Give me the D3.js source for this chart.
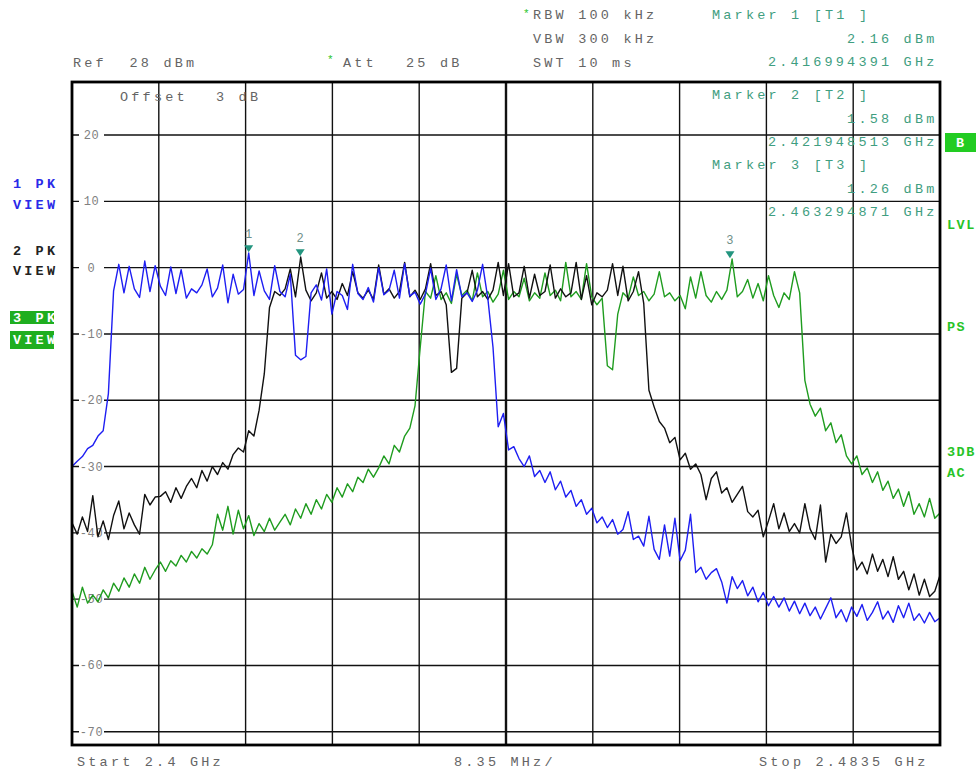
<!DOCTYPE html>
<html>
<head>
<meta charset="utf-8">
<script src="https://cdn.jsdelivr.net/npm/d3@7"></script>
<style>
  html, body { margin: 0; padding: 0; background: #fff; }
  svg { display: block; }
  text { font-family: "Liberation Mono", "DejaVu Sans Mono", monospace; }
</style>
</head>
<body>
<svg id="chart" width="976" height="772"></svg>
<script>
// ---------------- DATA ----------------
const sweepStartMHz = 2400;
const sweepStopMHz = 2483.5;
const sweepStepMHz = 0.5;          // one trace point every 0.5 MHz
const refLevel = 28, bottomLevel = -72;
const yTickValues = [20, 10, 0, -10, -20, -30, -40, -50, -60, -70];
const xDivisionsMHz = [0, 8.35, 16.7, 25.05, 33.4, 41.75, 50.1, 58.45, 66.8, 75.15, 83.5];

// Trace 1 (blue, PK VIEW)
const trace1 = [
  -30, -29.2, -28.5, -27.3, -26.8, -25.4, -24.6, -19,
  -3.5, 0.5, -3.8, 0.2, -3.2, -4.5, 1.0, -3.6,
  0.3, -2.8, -4.2, 0.1, -3.9, -0.3, -4.6, -3.2,
  -3.8, -2.6, -0.2, -4.4, -3.1, 0.4, -5.3, -1.0,
  -4.0, -3.3, 2.2, -4.2, -0.5, -3.5, -4.8, 0.3,
  -3.6, -4.4, -1.0, -13.2, -13.9, -13.4, -3.8, -2.6,
  -4.9, -0.2, -7.0, -3.6, -4.2, -6.3, 0.5, -3.9,
  -4.8, -3.0, -5.2, 0.0, -4.1, -3.4, -0.4, -4.6,
  0.6, -4.3, -3.7, -5.5, -4.0, -0.1, -4.8, -3.2,
  0.4, -5.0, -0.3, -4.4, -3.8, -5.1, -3.4, 0.5,
  -4.6, -12, -24, -22, -27.5, -27, -28.8, -30,
  -28.4, -31.5, -30.6, -32.4, -30.8, -33.5, -32.2, -34.6,
  -33.6, -36, -35, -37.2, -36.3, -38.5, -37.6, -39.2,
  -38, -40.2, -39.5, -36.8, -41, -40.5, -42, -37.5,
  -42.5, -44, -38.8, -43.5, -37.8, -44.2, -42.6, -37.2,
  -46, -45.2, -47, -46, -45.4, -47.4, -50.6, -46.6,
  -48.4, -47.2, -49.5, -48.2, -50.4, -49, -51, -49.6,
  -51.2, -49.8, -51.8, -50.3, -52.2, -50.6, -52.5, -51.2,
  -53, -51.4, -49.8, -52.8, -51.6, -53.4, -51.2, -52.6,
  -50.8, -53.2, -52, -50.4, -53, -51.8, -53.5, -51,
  -52.8, -50.6, -53.2, -52.2, -53.6, -52, -53.4, -52.8
];

// Trace 2 (black, PK VIEW)
const trace2 = [
  -38.5, -40.2, -37.6, -39.8, -34.4, -40.6, -38.2, -41,
  -37.4, -35.2, -39.4, -37, -38.8, -40.2, -34.2, -35.8,
  -34.6, -34.5, -33.8, -35.4, -33.2, -34.8, -33, -31.8,
  -33.2, -30.6, -32.2, -30, -31.2, -29.4, -30.4, -28.2,
  -27.2, -27.8, -24.6, -25.4, -21.5, -16, -6, -3.6,
  -4.2, -3.2, -0.2, -4.4, 1.6, -3.4, -5, -3.8,
  -0.8, -4.6, -3.6, -4.8, -2.4, -4.2, -0.6, -3.8,
  -4.6, -3.4, -4.8, 0.4, -4, -3.2, -4.6, -3.6,
  0.8, -4.4, -3.4, -4.8, -3.2, 0.6, -4.2, -3.6,
  -5.6, -15.8, -15.2, -4.6, -3.8, -0.4, -4.4, -3.6,
  -4.8, -3.4, 0.8, -4.2, 0.6, -4.4, -3.8, 0.2,
  -4.6, -1, -4.2, -3.6, 0.4, -4.6, -3.2, -4.4,
  -3.8, 0.8, -4.8, -1.2, -5.6, -3.8, -4.4, -3.4,
  0.6, -4.2, 0.2, -5, -3.6, -0.6, -5.4, -18.5,
  -21, -23.2, -24.2, -26.4, -25.6, -29, -28, -30.4,
  -29.6, -31.2, -35, -31.8, -30.8, -34, -33.2, -35.4,
  -34.2, -33, -36.8, -37.6, -36.6, -40.6, -38.2, -35.6,
  -39.4, -37, -39.8, -38.6, -40, -35.6, -39.4, -41,
  -35.8, -44.4, -40.2, -41.6, -40.6, -37, -42, -45.6,
  -44.4, -46.2, -43.2, -45.8, -44, -46.6, -43.6, -47,
  -45.8, -48.6, -46.2, -49.4, -47, -49.6, -48.8, -46.4
];

// Trace 3 (green, PK VIEW)
const trace3 = [
  -48.8, -51.2, -48.2, -50.6, -49.4, -50.4, -48.6, -49.8,
  -47.6, -48.8, -46.8, -48.2, -46.2, -47.6, -45.2, -47,
  -45.6, -44.4, -45.8, -44.2, -45, -43.4, -44.4, -42.8,
  -43.8, -42.4, -43.2, -41.8, -37.2, -39.6, -36, -40.2,
  -36.6, -39.4, -37.4, -40.4, -38.6, -39.8, -37.8, -39.6,
  -38.4, -37.2, -38.8, -36.4, -37.8, -35.6, -37.2, -35,
  -36.4, -34.2, -35.4, -33.2, -34.6, -32.6, -33.8, -31.6,
  -32.4, -30.4, -31.6, -30.2, -28.4, -29.6, -26.8, -27.8,
  -25.4, -24.2, -20.8, -12, -3.6, -4.6, -1.2, -4.8,
  -3.8, -5.4, -1, -4.2, -3.4, -5, -0.8, -4.4,
  -3.6, -5.2, -4, -0.4, -4.8, -3.6, -4.4, -1.6,
  -5, -3.8, -4.6, -0.8, -4.2, -3.4, -5, 0.8,
  -4.4, -3.6, -4.8, 0.6, -4.4, -5.6, -4.6, -14.8,
  -15.4, -7, -3.8, -4.6, -1.4, -4.2, -3.6, -5,
  -4, -0.6, -4.4, -3.8, -5, -4.2, -6.2, -1.4,
  -4.6, -0.6, -4.2, -5.2, -3.6, -4.8, -3.4, 1.3,
  -4.4, -3.6, -1.8, -4.6, -2.4, -5, -1.2, -4.2,
  -6, -3.8, -4.8, -0.6, -3.8, -17, -20.6, -22.4,
  -21.2, -24.6, -23.4, -26.4, -25.2, -28.4, -29.6, -28.4,
  -31.2, -30.2, -32.4, -30.8, -33.6, -32.2, -34.8, -33.4,
  -36, -33.8, -37.2, -35.6, -37.6, -34.8, -37.8, -37
];

// Markers
const markerNumbers = [1, 2, 3];
const markerFreqGHz = [2.416994391, 2.421948513, 2.463294871];
const markerLevels = [2.16, 1.58, 1.26];

// ---------------- LAYOUT ----------------
const plot = { left: 72, right: 940, top: 82, bottom: 745 };
const svg = d3.select("#chart");

const x = d3.scaleLinear().domain([sweepStartMHz, sweepStopMHz]).range([plot.left, plot.right]);
const y = d3.scaleLinear().domain([bottomLevel, refLevel]).range([plot.bottom, plot.top]);

svg.append("defs").append("clipPath").attr("id", "clip")
  .append("rect")
  .attr("x", plot.left).attr("y", plot.top)
  .attr("width", plot.right - plot.left).attr("height", plot.bottom - plot.top);

// grid
const grid = svg.append("g");
grid.selectAll("line.h").data(yTickValues).join("line")
  .attr("x1", plot.left).attr("x2", plot.right)
  .attr("y1", d => y(d)).attr("y2", d => y(d))
  .attr("stroke", "#111").attr("stroke-width", 1.4);
grid.selectAll("line.v").data(xDivisionsMHz.slice(1, -1)).join("line")
  .attr("x1", d => x(sweepStartMHz + d)).attr("x2", d => x(sweepStartMHz + d))
  .attr("y1", plot.top).attr("y2", plot.bottom)
  .attr("stroke", "#111")
  .attr("stroke-width", (d, i) => i === 4 ? 2.4 : 1.4);

// y tick labels (with white gap in the grid line)
const yl = svg.append("g");
yl.selectAll("rect").data(yTickValues).join("rect")
  .attr("x", 79).attr("y", d => y(d) - 5).attr("width", 25).attr("height", 10)
  .attr("fill", "#fff");
yl.selectAll("text").data(yTickValues).join("text")
  .attr("x", 91.5).attr("y", d => y(d) + 4)
  .attr("text-anchor", "middle")
  .attr("font-size", 12).attr("letter-spacing", 0.6)
  .attr("fill", "#808080")
  .text(d => d);

// traces
const line = d3.line()
  .x((d, i) => x(sweepStartMHz + i * sweepStepMHz))
  .y(d => y(d));
const traces = svg.append("g").attr("clip-path", "url(#clip)");
[[trace3, "#1f9c1f"], [trace2, "#111111"], [trace1, "#1e1ef2"]].forEach(([data, color]) => {
  traces.append("path").datum(data)
    .attr("d", line)
    .attr("fill", "none")
    .attr("stroke", color)
    .attr("stroke-width", 1.4)
    .attr("stroke-linejoin", "round");
});

// frame
svg.append("rect")
  .attr("x", plot.left).attr("y", plot.top)
  .attr("width", plot.right - plot.left).attr("height", plot.bottom - plot.top)
  .attr("fill", "none").attr("stroke", "#000").attr("stroke-width", 2.8);

// markers
const mk = svg.append("g");
markerNumbers.forEach((n, i) => {
  const mx = x(markerFreqGHz[i] * 1000);
  const my = y(markerLevels[i]) - 1;
  mk.append("path")
    .attr("d", `M${mx - 4.5},${my - 7} L${mx + 4.5},${my - 7} L${mx},${my} Z`)
    .attr("fill", "#23957f");
  mk.append("text")
    .attr("x", mx).attr("y", my - 14)
    .attr("text-anchor", "middle")
    .attr("font-size", 12).attr("fill", "#6f8f88")
    .text(n);
});

// ---------------- TEXT ----------------
const gray = "#646464", teal = "#3f9e80", bright = "#27c427";
function txt(s, tx, ty, color, opts = {}) {
  const t = svg.append("text")
    .attr("x", tx).attr("y", ty)
    .attr("font-size", opts.size || 13.5)
    .attr("letter-spacing", opts.ls !== undefined ? opts.ls : 3.2)
    .attr("fill", color)
    .attr("xml:space", "preserve")
    .style("white-space", "pre")
    .text(s);
  if (opts.weight) t.attr("font-weight", opts.weight);
  if (opts.anchor) t.attr("text-anchor", opts.anchor);
  return t;
}
// right-aligned at visible glyph end (pitch 11.3)
function rtxt(s, endX, ty, color) {
  const startX = endX - ((s.length - 1) * 11.3 + 7.8);
  return txt(s, startX, ty, color);
}

// header (instrument settings)
txt("*", 523, 17, bright, { size: 11, ls: 0 });
txt("RBW 100 kHz", 533, 19, gray);
txt("VBW 300 kHz", 533, 43, gray);
txt("SWT 10 ms", 533, 67, gray);
txt("Ref  28 dBm", 73, 67, gray);
txt("*", 327, 63, bright, { size: 11, ls: 0 });
txt("Att", 343, 67, gray);
txt("25 dB", 406, 67, gray);
txt("Offset", 120, 101, gray);
txt("3 dB", 216, 101, gray);

// marker readouts
const markerNames = ["Marker 1 [T1 ]", "Marker 2 [T2 ]", "Marker 3 [T3 ]"];
const markerRowY = [19, 99, 169];
markerNumbers.forEach((n, i) => {
  const ry = markerRowY[i];
  txt(markerNames[i], 712, ry, teal);
  rtxt(markerLevels[i].toFixed(2) + " dBm", 934, ry + 23.5, teal);
  rtxt(markerFreqGHz[i].toFixed(9) + " GHz", 934, ry + 47, teal);
});

// bottom
txt("Start 2.4 GHz", 77, 766, gray);
txt((xDivisionsMHz[1]).toFixed(2) + " MHz/", 454, 766, gray);
txt("Stop 2.4835 GHz", 759, 766, gray);

// left trace labels
txt("1 PK", 13, 188, "#2a2ae8", { ls: 3.2, weight: "bold" });
txt("VIEW", 13, 209, "#2a2ae8", { ls: 3.2, weight: "bold" });
txt("2 PK", 13, 255, "#222", { ls: 3.2, weight: "bold" });
txt("VIEW", 13, 275, "#222", { ls: 3.2, weight: "bold" });
svg.append("rect").attr("x", 10).attr("y", 311).attr("width", 44).attr("height", 13).attr("fill", "#1fae1f");
svg.append("rect").attr("x", 10).attr("y", 331).attr("width", 44).attr("height", 18).attr("fill", "#1fae1f");
txt("3 PK", 13, 322, "#ffffff", { ls: 3.2, weight: "bold" });
txt("VIEW", 13, 344, "#ffffff", { ls: 3.2, weight: "bold" });

// right side annotations
svg.append("rect").attr("x", 945).attr("y", 133).attr("width", 31).attr("height", 19).attr("fill", "#22cc22");
txt("B", 956, 147, "#ffffff", { ls: 0, weight: "bold" });
txt("LVL", 947, 229, bright, { ls: 1.5, weight: "bold" });
txt("PS", 947, 331, bright, { ls: 1.5, weight: "bold" });
txt("3DB", 947, 456, bright, { ls: 1.5, weight: "bold" });
txt("AC", 947, 477, bright, { ls: 1.5, weight: "bold" });
</script>
</body>
</html>
